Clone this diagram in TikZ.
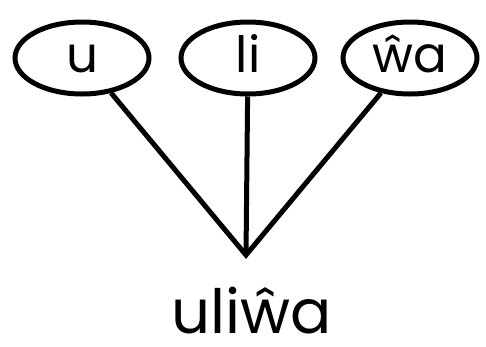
\documentclass[tikz,border=0pt]{standalone}
\usepackage{fontspec}
\setmainfont{Poppins}
\usetikzlibrary{shapes.geometric}
\begin{document}
\begin{tikzpicture}[x=1pt,y=-1pt,
  morph/.style={draw, line width=5pt, ellipse, minimum width=134pt, minimum height=72pt, inner sep=0pt},
  label/.style={font=\fontsize{50}{50}\selectfont, anchor=base, inner sep=0pt},
  link/.style={line width=5pt}]
\useasboundingbox (0,0) rectangle (486,346);
\node[morph] (u) at (82,58) {};
\node[morph] (li) at (248,58) {};
\node[morph] (wa) at (410,58) {};
\node[label] (tu) at (u.center |- 0,72) {u};
\node[label] (tli) at (li.center |- 0,72) {li};
\node[label] (twa) at (wa.center |- 0,72) {ŵa};
\coordinate (j) at (246,255);
\node[font=\fontsize{61}{61}\selectfont, anchor=base, text depth=0pt, inner sep=0pt] (w) at (252,333) {uliŵa};
\draw[link] (u) -- (j) -- (wa);
\draw[link] (li) -- (j);
\end{tikzpicture}
\end{document}
